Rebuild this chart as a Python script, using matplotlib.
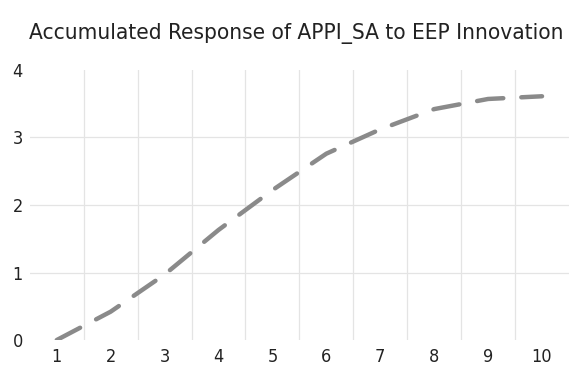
import numpy as np
import matplotlib
matplotlib.use('Agg')
import matplotlib.pyplot as plt

# accumulated response values
periods = [1, 2, 3, 4, 5, 6, 7, 8, 9, 10]
response = [0.0, 0.42, 0.97, 1.63, 2.22, 2.76, 3.12, 3.42, 3.57, 3.61]
yticks = [0, 1, 2, 3, 4]

plt.rcParams['lines.scale_dashes'] = False

fig = plt.figure(figsize=(5.73, 3.70), dpi=100)
ax = fig.add_axes([0.052, 0.081, 0.941, 0.73])

ax.plot(periods, response, color='#8a8a8a', linewidth=3.2,
        dashes=(19, 13), dash_capstyle='round', solid_capstyle='round')

ax.set_xlim(0.5, 10.5)
ax.set_ylim(0, 4)
ax.set_xticks(periods)
ax.set_yticks(yticks)

# vertical grid lines sit between the categories
for b in np.arange(1.5, 10.5, 1.0):
    ax.axvline(b, color='#e4e4e4', linewidth=0.9, zorder=0)
for v in yticks[1:-1]:
    ax.axhline(v, color='#e4e4e4', linewidth=0.9, zorder=0)

for s in ax.spines.values():
    s.set_visible(False)
ax.tick_params(length=0, labelsize=13, labelcolor='#222222')
ax.tick_params(axis='x', pad=6)
ax.tick_params(axis='y', pad=5)
for lab in ax.get_xticklabels() + ax.get_yticklabels():
    lab.set_fontstretch('condensed')

fig.text(0.517, 0.91, 'Accumulated Response of APPI_SA to EEP Innovation',
         ha='center', va='center', fontsize=16.2, color='#222222',
         family='DejaVu Sans', fontstretch='condensed')

fig.savefig('out.png', dpi=100)
